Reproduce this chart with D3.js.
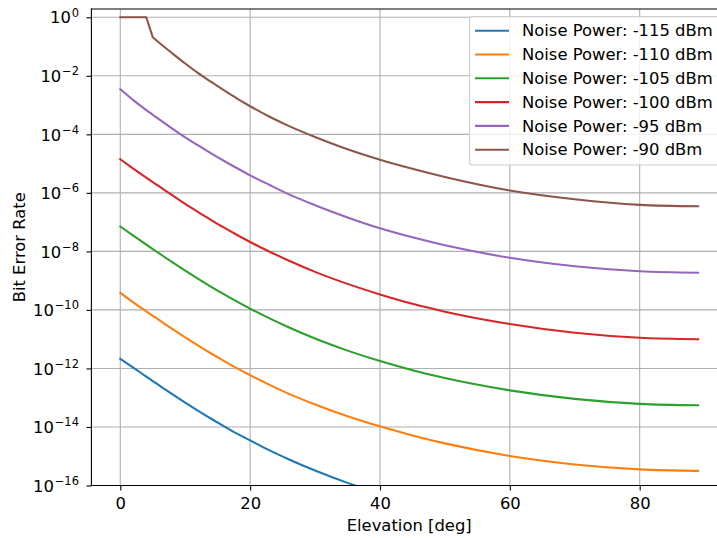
<!DOCTYPE html>
<html>
<head>
<meta charset="utf-8">
<script src="https://cdn.jsdelivr.net/npm/d3@7"></script>
<style>
  body { margin: 0; background: #fff; }
  svg { display: block; font-family: "DejaVu Sans", sans-serif; }
</style>
</head>
<body>
<svg id="chart" width="717" height="538"></svg>
<script>
// Satellite elevation angle [deg] at which the bit error rate was evaluated
const elevation = [0, 2, 4, 5, 6, 8, 10, 12, 14, 16, 18, 20, 23, 26, 30, 35, 40, 45, 50, 60, 70, 80, 89];

// Bit error rate per noise power level
const ber115 = [2.14e-12, 1.07e-12, 5.25e-13, 3.72e-13, 2.63e-13, 1.32e-13, 6.76e-14, 3.55e-14, 1.91e-14, 1.05e-14, 5.89e-15, 3.47e-15, 1.58e-15, 7.76e-16, 3.24e-16, 1.23e-16, 5.37e-17, 2.63e-17, 1.41e-17, 5.25e-18, 2.69e-18, 1.82e-18, 1.62e-18];
const ber110 = [3.80e-10, 1.82e-10, 8.91e-11, 6.31e-11, 4.47e-11, 2.24e-11, 1.15e-11, 6.03e-12, 3.24e-12, 1.78e-12, 1.00e-12, 5.89e-13, 2.75e-13, 1.35e-13, 5.89e-14, 2.34e-14, 1.05e-14, 5.13e-15, 2.75e-15, 1.02e-15, 5.25e-16, 3.55e-16, 3.16e-16];
const ber105 = [7.08e-8, 3.47e-8, 1.70e-8, 1.20e-8, 8.51e-9, 4.27e-9, 2.19e-9, 1.15e-9, 6.17e-10, 3.39e-10, 1.91e-10, 1.10e-10, 5.13e-11, 2.51e-11, 1.05e-11, 4.07e-12, 1.78e-12, 8.71e-13, 4.68e-13, 1.78e-13, 9.12e-14, 6.17e-14, 5.50e-14];
const ber100 = [1.41e-5, 6.76e-6, 3.31e-6, 2.34e-6, 1.66e-6, 8.32e-7, 4.17e-7, 2.19e-7, 1.18e-7, 6.46e-8, 3.63e-8, 2.09e-8, 9.77e-9, 4.79e-9, 2.00e-9, 7.76e-10, 3.39e-10, 1.62e-10, 8.71e-11, 3.31e-11, 1.66e-11, 1.12e-11, 1.00e-11];
const ber95 = [3.47e-3, 1.48e-3, 6.76e-4, 4.68e-4, 3.24e-4, 1.58e-4, 7.94e-5, 4.17e-5, 2.24e-5, 1.23e-5, 6.92e-6, 3.98e-6, 1.86e-6, 8.91e-7, 3.80e-7, 1.45e-7, 6.17e-8, 3.02e-8, 1.62e-8, 6.03e-9, 3.09e-9, 2.09e-9, 1.86e-9];
const ber90 = [1, 1, 1, 0.209, 0.135, 5.89e-2, 2.63e-2, 1.23e-2, 6.17e-3, 3.16e-3, 1.66e-3, 9.12e-4, 3.98e-4, 1.91e-4, 8.13e-5, 3.09e-5, 1.35e-5, 6.61e-6, 3.47e-6, 1.20e-6, 6.03e-7, 3.89e-7, 3.47e-7];

const seriesLabels = ["Noise Power: -115 dBm", "Noise Power: -110 dBm", "Noise Power: -105 dBm",
                      "Noise Power: -100 dBm", "Noise Power: -95 dBm", "Noise Power: -90 dBm"];
const seriesColors = ["#1f77b4", "#ff7f0e", "#2ca02c", "#d62728", "#9467bd", "#8c564b"];
const seriesValues = [ber115, ber110, ber105, ber100, ber95, ber90];

const xTicks = [0, 20, 40, 60, 80];
const yTickExponents = [0, -2, -4, -6, -8, -10, -12, -14, -16];

const FONT = 16.4;
const svg = d3.select("#chart");
const plot = { left: 91.4, right: 727, top: 9, bottom: 485.5 };

const x = d3.scaleLinear().domain([-4.45, 93.45]).range([plot.left, plot.right]);
const y = d3.scaleLog().domain([1e-16, 1.92]).range([plot.bottom, plot.top]);

svg.append("rect").attr("width", 717).attr("height", 538).attr("fill", "#fff");

svg.append("defs").append("clipPath").attr("id", "plot-clip")
  .append("rect")
  .attr("x", plot.left).attr("y", plot.top)
  .attr("width", plot.right - plot.left).attr("height", plot.bottom - plot.top);

// grid
const grid = svg.append("g").attr("stroke", "#b0b0b0").attr("stroke-width", 1.1);
grid.selectAll("line.gx").data(xTicks).join("line")
  .attr("x1", d => x(d)).attr("x2", d => x(d))
  .attr("y1", plot.top).attr("y2", plot.bottom);
grid.selectAll("line.gy").data(yTickExponents).join("line")
  .attr("x1", plot.left).attr("x2", plot.right)
  .attr("y1", d => y(Math.pow(10, d))).attr("y2", d => y(Math.pow(10, d)));

// curves: the saturated stretch (BER capped at 1) is drawn straight,
// the rest of each series as a smooth monotone curve
const pts = vals => vals.map((v, i) => [elevation[i], v]);
const straight = d3.line().x(d => x(d[0])).y(d => y(d[1])).curve(d3.curveLinear);
const smooth = d3.line().x(d => x(d[0])).y(d => y(d[1])).curve(d3.curveMonotoneX);

function seriesPath(vals) {
  const p = pts(vals);
  let lastCapped = -1;
  p.forEach((d, i) => { if (d[1] >= 1) lastCapped = i; });
  if (lastCapped < 0) return smooth(p);
  const head = p.slice(0, lastCapped + 2);
  const tail = p.slice(lastCapped + 1);
  return straight(head) + smooth(tail).replace(/^M[^A-Za-z]*/, "");
}

svg.append("g").attr("clip-path", "url(#plot-clip)")
  .selectAll("path").data(seriesValues).join("path")
  .attr("d", d => seriesPath(d))
  .attr("fill", "none")
  .attr("stroke", (d, i) => seriesColors[i])
  .attr("stroke-width", 2.08)
  .attr("stroke-linejoin", "round")
  .attr("stroke-linecap", "square");

// axes
const xAxis = svg.append("g")
  .attr("transform", `translate(0,${plot.bottom})`)
  .call(d3.axisBottom(x).tickValues(xTicks).tickSize(4.9).tickSizeOuter(0).tickFormat(d3.format("d")));
xAxis.select(".domain").remove();
xAxis.selectAll(".tick line").attr("stroke", "#000").attr("stroke-width", 1.1);
xAxis.selectAll(".tick text")
  .attr("y", 23.8).attr("dy", null)
  .attr("font-size", FONT).attr("font-family", "DejaVu Sans").attr("fill", "#000");

const yAxis = svg.append("g")
  .attr("transform", `translate(${plot.left},0)`)
  .call(d3.axisLeft(y).tickValues(yTickExponents.map(e => Math.pow(10, e))).tickSize(4.9).tickSizeOuter(0).tickFormat(""));
yAxis.select(".domain").remove();
yAxis.selectAll(".tick line").attr("stroke", "#000").attr("stroke-width", 1.1);

const yLabels = svg.append("g").attr("fill", "#000").attr("text-anchor", "end");
yTickExponents.forEach(e => {
  const ty = y(Math.pow(10, e));
  const t = yLabels.append("text").attr("x", 79).attr("y", ty + 6.2).attr("font-size", FONT);
  t.append("tspan").text("10");
  t.append("tspan").attr("font-size", 11.5).attr("dy", -6.8).attr("dx", 0.8)
    .text(e < 0 ? "\u2212" + Math.abs(e) : String(e));
});

// spines
const spines = svg.append("g").attr("stroke", "#000").attr("stroke-width", 1.1).attr("stroke-linecap", "square");
spines.append("line").attr("x1", plot.left).attr("x2", plot.left).attr("y1", plot.top).attr("y2", plot.bottom);
spines.append("line").attr("x1", plot.left).attr("x2", plot.right).attr("y1", plot.bottom).attr("y2", plot.bottom);
spines.append("line").attr("x1", plot.left).attr("x2", plot.right).attr("y1", plot.top).attr("y2", plot.top);
spines.append("line").attr("x1", plot.right).attr("x2", plot.right).attr("y1", plot.top).attr("y2", plot.bottom);

// axis titles
svg.append("text")
  .attr("x", (plot.left + plot.right) / 2).attr("y", 531)
  .attr("text-anchor", "middle").attr("font-size", FONT).attr("fill", "#000")
  .text("Elevation [deg]");
svg.append("text")
  .attr("transform", `translate(25,${(plot.top + plot.bottom) / 2}) rotate(-90)`)
  .attr("text-anchor", "middle").attr("font-size", FONT).attr("fill", "#000")
  .text("Bit Error Rate");

// legend
const legend = svg.append("g");
legend.append("rect")
  .attr("x", 469.5).attr("y", 16.5).attr("width", 250).attr("height", 148.5)
  .attr("rx", 2.8).attr("ry", 2.8)
  .attr("fill", "#fff").attr("fill-opacity", 0.8)
  .attr("stroke", "#cccccc").attr("stroke-width", 1.1);
const rowStep = 23.8;
seriesLabels.forEach((label, i) => {
  const ry = 30.7 + i * rowStep;
  legend.append("line")
    .attr("x1", 475).attr("x2", 509).attr("y1", ry).attr("y2", ry)
    .attr("stroke", seriesColors[i]).attr("stroke-width", 2.08);
  legend.append("text")
    .attr("x", 522).attr("y", ry + 5.6)
    .attr("font-size", FONT).attr("fill", "#000")
    .text(label);
});
</script>
</body>
</html>
